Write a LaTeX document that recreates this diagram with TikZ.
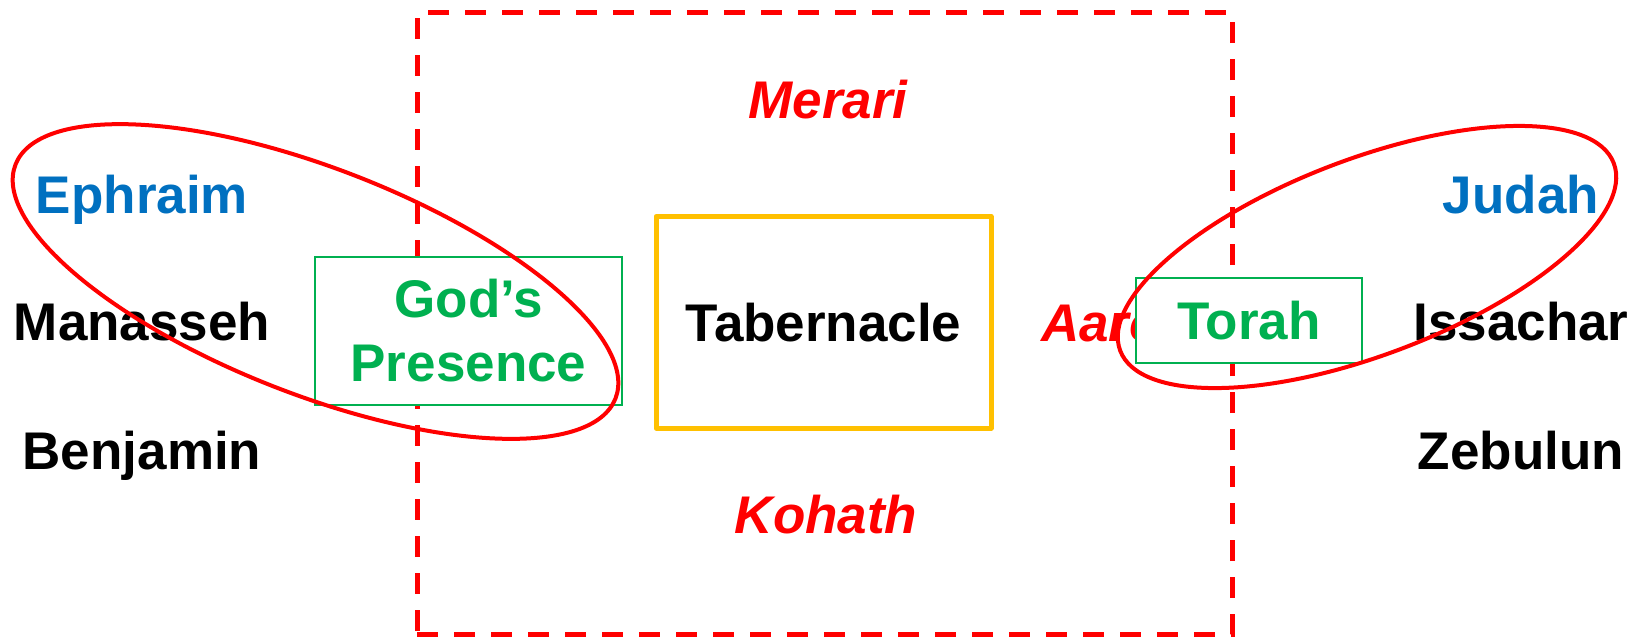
\documentclass[tikz,border=0pt]{standalone}
\usepackage{fontspec}
\setmainfont{Liberation Sans}
\usetikzlibrary{shapes.geometric}
\definecolor{tred}{HTML}{FF0000}
\definecolor{tblue}{HTML}{0070C0}
\definecolor{tgreen}{HTML}{00B050}
\definecolor{tgold}{HTML}{FFC000}
\newcommand\lblfont{\fontsize{53}{64}\selectfont\bfseries}
\tikzset{
  tribe/.style={font=\lblfont, inner sep=0pt, anchor=base, text=black},
  leader/.style={tribe, text=tblue},
  levite/.style={tribe, text=tred, font=\lblfont\itshape},
  greenbox/.style={draw=tgreen, line width=2pt, fill=white, text=tgreen, font=\lblfont, inner sep=0pt, align=center},
  goldbox/.style={draw=tgold, line width=5pt, line join=round, font=\lblfont, inner sep=0pt},
  campbox/.style={draw=tred, line width=5pt, dash pattern=on 21pt off 16pt, inner sep=0pt},
  ring/.style={ellipse, draw=tred, line width=4pt, inner sep=0pt}
}
\begin{document}
\begin{tikzpicture}[x=1pt, y=-1pt]
\useasboundingbox (0,0) rectangle (1638,638);
% hidden-behind text
\node[levite, anchor=base west] (aaron) at (1041,341) {Aaron};
% Levite camp
\node[campbox, minimum width=815pt, minimum height=621.5pt] (camp) at (824.5,323.25) {};
\node[levite] (merari) at (828,118) {Merari};
\node[levite] (kohath) at (826,533) {Kohath};
% Tabernacle
\node[goldbox, minimum width=335pt, minimum height=211.5pt] (tab) at (823.5,322.3) {Tabernacle};
% Green boxes
\node[greenbox, minimum width=307pt, minimum height=148pt] (gp) at (468.5,331) {God’s\\Presence};
\node[greenbox, minimum width=226pt, minimum height=85pt] (torah) at (1249,320.5) {Torah};
% tribes west
\node[leader] (ephraim) at (142,213) {Ephraim};
\node[tribe] (manasseh) at (142,340) {Manasseh};
\node[tribe] (benjamin) at (142,469) {Benjamin};
% tribes east
\node[leader] (judah) at (1521,213) {Judah};
\node[tribe] (issachar) at (1521,340) {Issachar};
\node[tribe] (zebulun) at (1521,469) {Zebulun};
% ellipses
\node[ring, minimum width=644pt, minimum height=226pt, rotate=-21.3] (west) at (315.5,281.5) {};
\node[ring, minimum width=528pt, minimum height=196pt, rotate=20.8] (east) at (1367,257) {};
\end{tikzpicture}
\end{document}
